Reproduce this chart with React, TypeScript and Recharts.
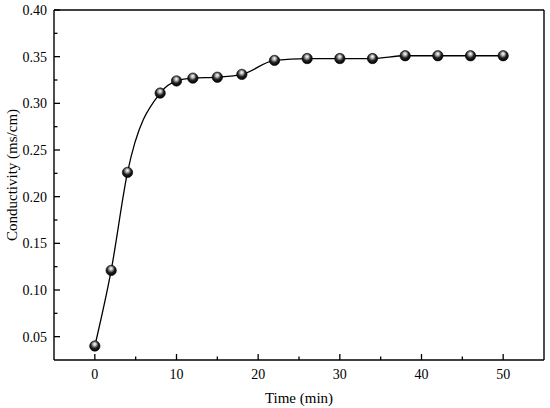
import React from 'react';
import { LineChart, Line, XAxis, YAxis } from 'recharts';

const timeMin = [0, 2, 4, 8, 10, 12, 15, 18, 22, 26, 30, 34, 38, 42, 46, 50];
const conductivity = [0.040, 0.121, 0.226, 0.311, 0.324, 0.327, 0.328, 0.331, 0.346, 0.348, 0.348, 0.348, 0.351, 0.351, 0.351, 0.351];

const xTicks = [-5, 0, 5, 10, 15, 20, 25, 30, 35, 40, 45, 50, 55];
const yTicks = [0.05, 0.075, 0.1, 0.125, 0.15, 0.175, 0.2, 0.225, 0.25, 0.275, 0.3, 0.325, 0.35, 0.375, 0.4];

const data = timeMin.map((t, i) => ({ time: t, value: conductivity[i] }));

const FONT = '"Liberation Serif", "Times New Roman", serif';

const XTick = (props: any) => {
  const { x, y, payload } = props;
  const v = payload.value;
  const major = v % 10 === 0;
  const edge = v === -5 || v === 55;
  if (edge) return null;
  return (
    <g>
      <line x1={x} x2={x} y1={y} y2={y - (major ? 6 : 3.5)} stroke="#000" strokeWidth={1.3} />
      {major && (
        <text x={x} y={y + 19} textAnchor="middle" fontFamily={FONT} fontSize={14} fill="#000">
          {v}
        </text>
      )}
    </g>
  );
};

const YTick = (props: any) => {
  const { x, y, payload } = props;
  const v = payload.value;
  const major = Math.abs(v * 20 - Math.round(v * 20)) < 1e-6;
  return (
    <g>
      <line x1={x} x2={x + (major ? 6 : 3.5)} y1={y} y2={y} stroke="#000" strokeWidth={1.3} />
      {major && (
        <text x={x - 7} y={y} dy="0.35em" textAnchor="end" fontFamily={FONT} fontSize={14} fill="#000">
          {v.toFixed(2)}
        </text>
      )}
    </g>
  );
};

// frame line on the opposite side, drawn as the single tick of a tickless axis
const Ball = (props: any) => {
  const { cx, cy } = props;
  if (cx == null || cy == null) return null;
  return <circle cx={cx} cy={cy} r={5.2} fill="url(#ballGrad)" stroke="#000" strokeWidth={0.6} />;
};

const App: React.FC = () => {
  return (
    <div style={{ position: 'absolute', left: 0, top: 0, width: 550, height: 408, background: '#fff' }}>
      <LineChart width={550} height={408} data={data} margin={{ top: 9, right: 5, left: 0, bottom: 0 }}>
        <defs>
          <radialGradient id="ballGrad" cx="45%" cy="40%" r="60%" fx="50%" fy="30%">
            <stop offset="0%" stopColor="#ffffff" />
            <stop offset="25%" stopColor="#bbbbbb" />
            <stop offset="60%" stopColor="#222222" />
            <stop offset="100%" stopColor="#000000" />
          </radialGradient>
        </defs>
        <XAxis
          dataKey="time"
          type="number"
          domain={[-5, 55]}
          ticks={xTicks}
          interval={0}
          height={48}
          tickSize={0}
          tickMargin={0}
          tickLine={false}
          tick={<XTick />}
          axisLine={{ stroke: '#000', strokeWidth: 1.4 }}
          label={{
            content: ({ viewBox }: any) => (
              <text
                x={viewBox.x + viewBox.width / 2}
                y={viewBox.y + viewBox.height - 5}
                textAnchor="middle"
                fontFamily={FONT}
                fontSize={15}
                fill="#000"
              >
                Time (min)
              </text>
            ),
          }}
        />
        <XAxis
          xAxisId="top"
          orientation="top"
          dataKey="time"
          type="number"
          domain={[-5, 55]}
          height={1}
          tick={false}
          tickLine={false}
          axisLine={{ stroke: '#000', strokeWidth: 1.4 }}
        />
        <YAxis
          type="number"
          domain={[0.025, 0.4]}
          ticks={yTicks}
          interval={0}
          width={54}
          tickSize={0}
          tickMargin={0}
          tickLine={false}
          tick={<YTick />}
          axisLine={{ stroke: '#000', strokeWidth: 1.4 }}
          label={{
            content: ({ viewBox }: any) => {
              const lx = viewBox.x + 12;
              const ly = viewBox.y + viewBox.height / 2 - 10;
              return (
                <text
                  x={lx}
                  y={ly}
                  dy="0.35em"
                  transform={`rotate(-90 ${lx} ${ly})`}
                  textAnchor="middle"
                  fontFamily={FONT}
                  fontSize={15}
                  fill="#000"
                >
                  Conductivity (ms/cm)
                </text>
              );
            },
          }}
        />
        <YAxis
          yAxisId="right"
          orientation="right"
          type="number"
          domain={[0.025, 0.4]}
          width={1}
          tick={false}
          tickLine={false}
          axisLine={{ stroke: '#000', strokeWidth: 1.4 }}
        />
        <Line
          type="monotone"
          dataKey="value"
          stroke="#000"
          strokeWidth={1.3}
          dot={<Ball />}
          activeDot={false}
          isAnimationActive={false}
        />
      </LineChart>
    </div>
  );
};

export default App;
